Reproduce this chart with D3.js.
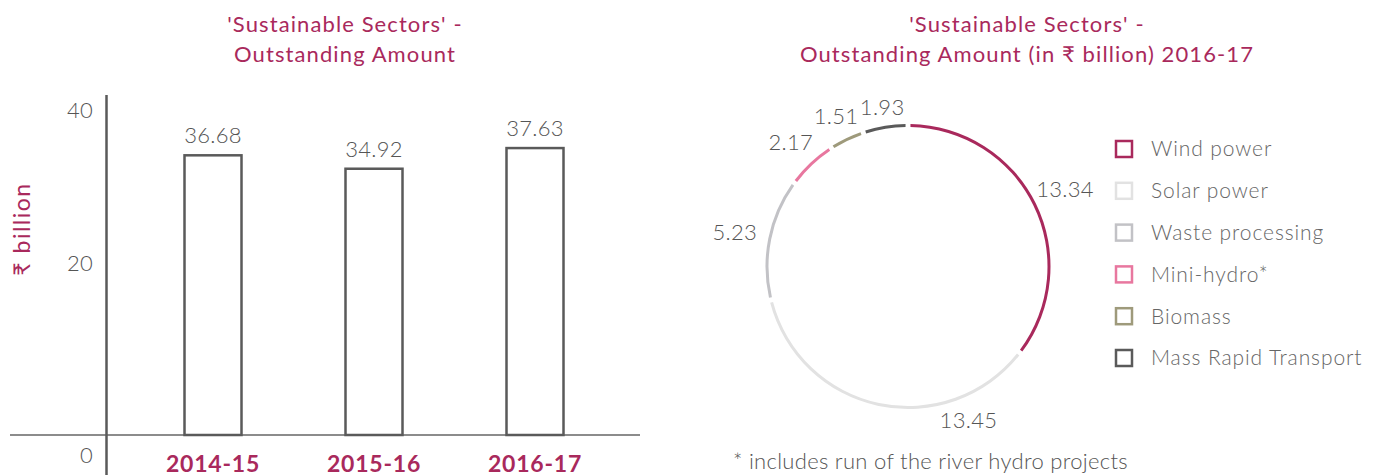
<!DOCTYPE html>
<html>
<head>
<meta charset="utf-8">
<script src="https://cdn.jsdelivr.net/npm/d3@7"></script>
<style>
    body { margin: 0; background: #fff; }
    svg { display: block; font-family: Lato, "DejaVu Sans", sans-serif; }
    .title { fill: #a9295c; font-size: 22px; letter-spacing: 1.1px; }
    .num { fill: #555; font-size: 22px; font-weight: 300; letter-spacing: 0.3px; }
    .legend text { fill: #666; font-size: 21px; font-weight: 300; letter-spacing: 0.9px; }
</style>
</head>
<body>
<div id="chart"></div>
<script>
// left chart: outstanding amount per year (₹ billion)
const years = ['2014-15', '2015-16', '2016-17'];
const amounts = [36.68, 34.92, 37.63];
const yTicks = [0, 20, 40];

// right chart: 2016-17 split by sector
const sectors = ['Wind power', 'Solar power', 'Waste processing', 'Mini-hydro*', 'Biomass', 'Mass Rapid Transport'];
const sectorAmounts = [13.34, 13.45, 5.23, 2.17, 1.51, 1.93];
const sectorColors = ['#a9295c', '#e2e2e2', '#c2c2c6', '#e8779f', '#9e9a7b', '#5a5a5a'];

const crimson = '#a9295c';

var svg = d3.select("#chart")
    .append("svg")
    .attr("width", 1377)
    .attr("height", 476);

////////// bar chart //////////

var x = d3.scalePoint()
    .domain(years)
    .range([213, 535]);

var y = d3.scaleLinear()
    .domain([0, 40])
    .range([435, 130]);

var barW = 57;

var left = svg.append("g");

left.append("text")
    .attr("class", "title")
    .attr("text-anchor", "middle")
    .selectAll("tspan")
    .data(["'Sustainable Sectors' -", "Outstanding Amount"])
    .enter().append("tspan")
    .attr("x", 345)
    .attr("y", (d, i) => 32 + i * 30)
    .text(d => d);

// y label
left.append("text")
    .attr("transform", "translate(30,229) rotate(-90)")
    .attr("text-anchor", "middle")
    .attr("fill", crimson)
    .attr("font-size", 23)
    .attr("letter-spacing", 1.5)
    .text("₹ billion");

// tick labels sit above their value, the 0 drops below the base line
left.append("g")
    .selectAll("text")
    .data(yTicks)
    .enter().append("text")
    .attr("class", "num")
    .attr("text-anchor", "end")
    .attr("x", 93)
    .attr("y", d => y(d))
    .attr("dy", d => d === 0 ? 28 : -12)
    .text(d => d);

left.append("line")
    .attr("x1", 10).attr("x2", 640)
    .attr("y1", y(0)).attr("y2", y(0))
    .attr("stroke", "#666")
    .attr("stroke-width", 1.5);

left.append("line")
    .attr("x1", 106.5).attr("x2", 106.5)
    .attr("y1", 95).attr("y2", 475)
    .attr("stroke", "#5a5a5a")
    .attr("stroke-width", 2.5);

var bars = left.selectAll(".bar")
    .data(years)
    .enter().append("g")
    .attr("class", "bar");

bars.append("rect")
    .attr("x", d => x(d) - barW / 2)
    .attr("width", barW)
    .attr("y", (d, i) => y(amounts[i]))
    .attr("height", (d, i) => y(0) - y(amounts[i]))
    .attr("fill", "#fff")
    .attr("stroke", "#5a5a5a")
    .attr("stroke-width", 2.5);

bars.append("text")
    .attr("class", "num")
    .attr("text-anchor", "middle")
    .attr("x", d => x(d))
    .attr("y", (d, i) => y(amounts[i]) - 12)
    .text((d, i) => amounts[i].toFixed(2));

bars.append("text")
    .attr("text-anchor", "middle")
    .attr("x", d => x(d))
    .attr("y", 472)
    .attr("fill", crimson)
    .attr("font-size", 23)
    .attr("font-weight", "bold")
    .attr("letter-spacing", 0.8)
    .text(d => d);

////////// donut //////////

var cx = 908, cy = 266.5, r = 141;

var right = svg.append("g");

right.append("text")
    .attr("class", "title")
    .attr("text-anchor", "middle")
    .selectAll("tspan")
    .data(["'Sustainable Sectors' -", "Outstanding Amount (in ₹ billion) 2016-17"])
    .enter().append("tspan")
    .attr("x", 1027)
    .attr("y", (d, i) => 32 + i * 30)
    .text(d => d);

var color = d3.scaleOrdinal()
    .domain(sectors)
    .range(sectorColors);

var pie = d3.pie()
    .sort(null)
    .value(d => d);

var arcs = pie(sectorAmounts);

var arc = d3.arc()
    .innerRadius(r - 1.5)
    .outerRadius(r + 1.5)
    .padAngle(0.035)
    .padRadius(r);

var ring = right.append("g")
    .attr("transform", "translate(" + cx + "," + cy + ")");

ring.selectAll("path")
    .data(arcs)
    .enter().append("path")
    .attr("d", arc)
    .attr("fill", (d, i) => color(sectors[i]));

ring.selectAll("text")
    .data(arcs)
    .enter().append("text")
    .attr("class", "num")
    .attr("text-anchor", "middle")
    .attr("dy", "0.35em")
    .attr("transform", (d, i) => {
        // solar label sits near the start of its slice in the original
        const f = i === 1 ? 0.24 : 0.5;
        const a = d.startAngle + (d.endAngle - d.startAngle) * f;
        const R = 158 + 19 * Math.abs(Math.sin(a));
        return "translate(" + (R * Math.sin(a)) + "," + (-R * Math.cos(a)) + ")";
    })
    .text(d => d.data.toFixed(2));

// legend
var legend = right.append("g")
    .attr("class", "legend")
    .selectAll("g")
    .data(sectors)
    .enter().append("g")
    .attr("transform", (d, i) => "translate(1116," + (149 + i * 41.8) + ")");

legend.append("rect")
    .attr("x", 0).attr("y", -8)
    .attr("width", 16).attr("height", 16)
    .attr("fill", "#fff")
    .attr("stroke", d => color(d))
    .attr("stroke-width", 2.5);

legend.append("text")
    .attr("x", 35)
    .attr("dy", "0.35em")
    .text(d => d);

right.append("text")
    .attr("class", "num")
    .attr("x", 733)
    .attr("y", 469)
    .attr("font-size", 20)
    .attr("letter-spacing", 0.6)
    .text("* includes run of the river hydro projects");
</script>
</body>
</html>
